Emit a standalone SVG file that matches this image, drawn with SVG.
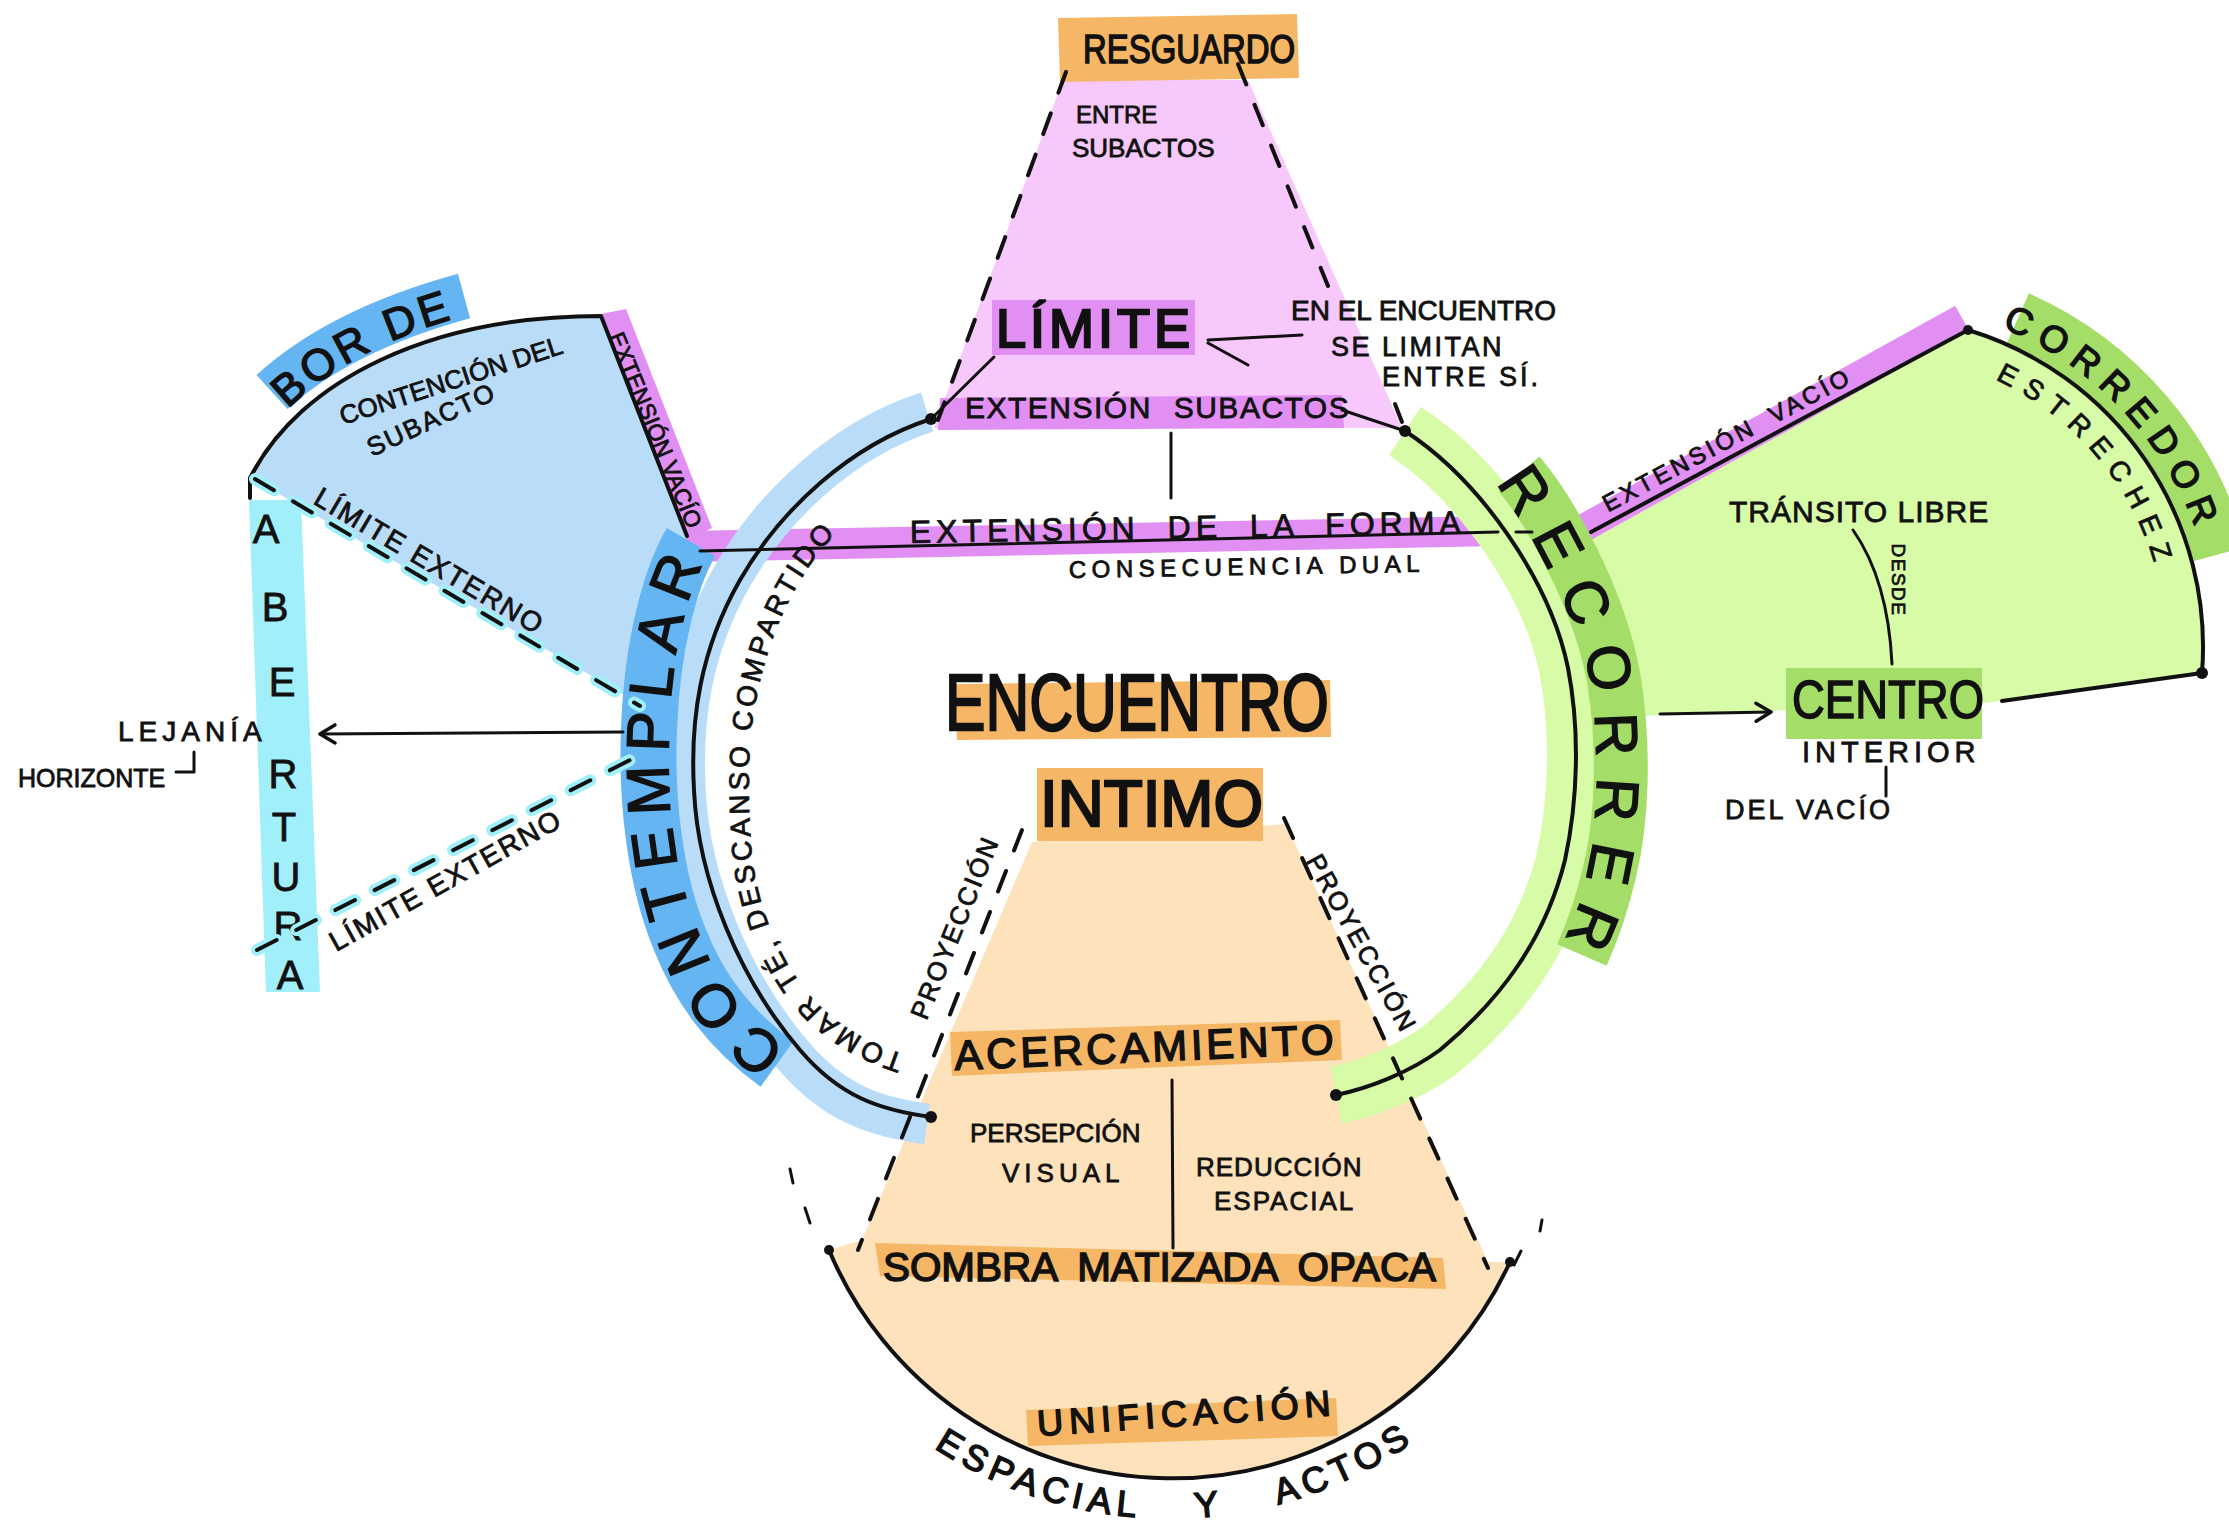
<svg xmlns="http://www.w3.org/2000/svg" width="2229" height="1527" viewBox="0 0 2229 1527">
<defs>
<style>
text { font-family: "Liberation Sans", Arial, sans-serif; fill: #111; stroke: #111; stroke-width: 0.8; }
.w2 { stroke-width: 1.5; }
.w3 { stroke-width: 2.4; }
.ln { fill: none; stroke: #111; stroke-width: 4; stroke-linecap: round; stroke-linejoin: round; }
.thin { fill: none; stroke: #111; stroke-width: 3; stroke-linecap: round; stroke-linejoin: round; }
.dash { fill: none; stroke: #111; stroke-width: 4; stroke-dasharray: 22 22; stroke-linecap: round; }
.halo { fill: none; stroke: #a1effa; stroke-width: 12; stroke-dasharray: 22 22; stroke-linecap: round; }
.orange { fill: #f5b765; }
.orangeL { fill: #fde2bc; }
.pinkL { fill: #f6c8fb; }
.mag { fill: #e18ff3; }
.blueL { fill: #b9ddf9; }
.blue { fill: #65b5f3; }
.cyan { fill: #a1effa; }
.greenL { fill: #d8fba8; }
.green { fill: #a4de68; }
.dot { fill: #111; }
</style>
<marker id="arr" viewBox="0 0 24 24" refX="21" refY="12" markerWidth="24" markerHeight="24" markerUnits="userSpaceOnUse" orient="auto">
<path d="M6,3 L21,12 L6,21" fill="none" stroke="#111" stroke-width="3.5" stroke-linecap="round" stroke-linejoin="round"/>
</marker>
<path id="pathLeft" d="M931,419 C850,445 780,510 740,580 C700,650 690,720 694,790 C698,880 740,980 800,1050 C840,1097 880,1110 931,1117"/>
<path id="pathRight" d="M1405,431 C1480,480 1550,580 1568,668 C1580,730 1578,800 1565,860 C1545,940 1500,1000 1440,1050 C1410,1072 1370,1088 1336,1095"/>
<path id="tpContemplar" d="M789,1048 C745,1020 716,980 698,932 C673,872 666,800 669,730 C672,640 690,590 708,552"/>
<path id="tpTomar" d="M905,1055 C860,1040 830,1020 805,990 C775,950 755,900 751,844 C747,790 748,740 756,700 C768,640 790,585 830,540"/>
<path id="tpRecorrer" d="M1500,490 C1530,530 1575,610 1590,680 C1600,750 1598,820 1588,870 C1580,905 1570,930 1560,950"/>
<path id="tpCorredor" d="M1990,323 A345 345 0 0 1 2209,575"/>
<path id="tpEstrechez" d="M1982,374 A294 294 0 0 1 2160,586"/>
<path id="tpBorde" d="M285,412 Q350,345 478,312"/>
<path id="tpEspacial" d="M924,1441 A428 428 0 0 0 1445,1418"/>
</defs>

<rect x="0" y="0" width="2229" height="1527" fill="#ffffff"/>

<!-- background fills -->
<g id="resguardo-zone">
<polygon class="pinkL" points="1063,80 1248,80 1402,428 934,428"/>
</g>
<g id="borde-zone">
<path class="blueL" d="M250,478 C300,380 430,316 601,316 L690,540 L705,560 L650,710 L255,480 Z"/>
</g>
<g id="corredor-zone">
<path class="greenL" d="M1580,538 L1968,330 A331 331 0 0 1 2202,673 L1985,703 L1635,716 Z"/>
</g>
<g id="intimo-zone">
<path class="orangeL" d="M1032,842 L1286,824 L1488,1262 L1510,1262 A372 372 0 0 1 829,1250 L862,1240 Z"/>
</g>

<!-- bands -->
<g id="abertura">
<polygon class="cyan" points="249,500 301,500 320,992 266,992"/>
<g font-size="40" text-anchor="middle" class="w2">
<text x="266" y="543">A</text>
<text x="275" y="621">B</text>
<text x="282" y="696">E</text>
<text x="283" y="788">R</text>
<text x="284" y="841">T</text>
<text x="286" y="891">U</text>
<text x="288" y="940">R</text>
<text x="290" y="989">A</text>
</g>
</g>

<g id="borde">
<path d="M272,392 Q340,330 464,296" fill="none" stroke="#65b5f3" stroke-width="46"/>
<text font-size="44" letter-spacing="4" class="w2"><textPath href="#tpBorde" startOffset="4">BOR DE</textPath></text>
</g>

<g id="corredor">
<path d="M2018,318 A360 360 0 0 1 2220,554" fill="none" stroke="#a4de68" stroke-width="54"/>
<text font-size="37" letter-spacing="10" text-anchor="middle" class="w2"><textPath href="#tpCorredor" startOffset="46%">CORREDOR</textPath></text>
</g>

<g id="extension-vacio-left">
<polygon class="mag" points="601,314 626,309 712,528 688,540"/>
<text x="648" y="433" font-size="23" text-anchor="middle" transform="rotate(67.7 648 433)">EXTENSIÓN VACÍO</text>
</g>

<g id="extension-forma">
<polygon class="mag" points="686,531 1497,516 1497,546 686,562"/>
<text x="910" y="543" font-size="32" letter-spacing="5" word-spacing="14" transform="rotate(-1 910 543)">EXTENSIÓN DE LA FORMA</text>
<text x="1069" y="578" font-size="24" letter-spacing="5.5" transform="rotate(-1 1069 578)">CONSECUENCIA DUAL</text>
</g>

<g id="extension-vacio-right">
<path d="M1562,540 L1962,318" fill="none" stroke="#e18ff3" stroke-width="28"/>
<text x="1731" y="447" font-size="24" text-anchor="middle" letter-spacing="3.5" word-spacing="8" transform="rotate(-28 1731 447)">EXTENSIÓN VACÍO</text>
</g>

<g id="resguardo">
<polygon class="orange" points="1058,18 1297,14 1299,78 1060,82"/>
<text x="1083" y="63" font-size="40" textLength="212" lengthAdjust="spacingAndGlyphs" class="w2">RESGUARDO</text>
<text x="1076" y="123" font-size="24">ENTRE</text>
<text x="1072" y="157" font-size="26">SUBACTOS</text>
</g>

<g id="limite">
<rect class="mag" x="992" y="300" width="203" height="55"/>
<text x="996" y="347" font-size="54" letter-spacing="4" class="w3">LÍMITE</text>
</g>

<g id="limite-note">
<text x="1291" y="320" font-size="27" textLength="265" lengthAdjust="spacingAndGlyphs">EN EL ENCUENTRO</text>
<text x="1331" y="356" font-size="27" letter-spacing="2.5">SE LIMITAN</text>
<text x="1382" y="386" font-size="27" letter-spacing="3">ENTRE SÍ.</text>
</g>

<g id="extension-subactos">
<polygon class="mag" points="940,398 1342,395 1344,428 938,430"/>
<text x="965" y="418" font-size="30" letter-spacing="1.5" word-spacing="12">EXTENSIÓN SUBACTOS</text>
</g>

<!-- rings -->
<g id="ring-left">
<use href="#pathLeft" fill="none" stroke="#b9ddf9" stroke-width="40" transform="matrix(1.02 0 0 1.02 -22.5 -15.36)"/>
</g>
<g id="ring-right">
<use href="#pathRight" fill="none" stroke="#d8fba8" stroke-width="58"/>
</g>

<g id="contemplar">
<path d="M691,542 C672,575 652,640 649,730 C646,800 655,880 680,940 C700,990 730,1030 777,1064" fill="none" stroke="#65b5f3" stroke-width="56"/>
<text font-size="60" letter-spacing="12" text-anchor="middle" class="w2"><textPath href="#tpContemplar" startOffset="50%">CONTEMPLAR</textPath></text>
</g>

<g id="recorrer">
<path d="M1519,474 C1550,510 1600,600 1614,680 C1625,750 1622,820 1610,870 C1602,905 1593,930 1582,955" fill="none" stroke="#a4de68" stroke-width="54"/>
<text font-size="60" letter-spacing="20" text-anchor="middle" class="w2"><textPath href="#tpRecorrer" startOffset="50%">RECORRER</textPath></text>
</g>

<g id="tomar-te">
<text font-size="28" letter-spacing="3.5"><textPath href="#tpTomar" startOffset="0">TOMAR TÉ, DESCANSO COMPARTIDO</textPath></text>
</g>

<!-- central nodes -->
<g id="encuentro">
<polygon class="orange" points="955,684 1330,680 1331,737 957,740"/>
<text x="945" y="730" font-size="80" textLength="384" lengthAdjust="spacingAndGlyphs" class="w3">ENCUENTRO</text>
</g>

<g id="intimo">
<rect class="orange" x="1037" y="768" width="226" height="73"/>
<text x="1040" y="826" font-size="64" textLength="223" lengthAdjust="spacingAndGlyphs" class="w3">INTIMO</text>
</g>

<g id="proyeccion-left">
<text x="963" y="931" font-size="26" text-anchor="middle" letter-spacing="2" transform="rotate(-68 963 931)">PROYECCIÓN</text>
</g>
<g id="proyeccion-right">
<text x="1354" y="948" font-size="26" text-anchor="middle" letter-spacing="2.5" transform="rotate(61 1354 948)">PROYECCIÓN</text>
</g>

<g id="acercamiento">
<polygon class="orange" points="950,1032 1340,1020 1342,1060 952,1076"/>
<text x="955" y="1070" font-size="42" letter-spacing="3.8" transform="rotate(-2.5 955 1070)" class="w2">ACERCAMIENTO</text>
</g>

<g id="percepcion">
<text x="970" y="1142" font-size="26">PERSEPCIÓN</text>
<text x="1002" y="1182" font-size="26" letter-spacing="5">VISUAL</text>
</g>
<g id="reduccion">
<text x="1196" y="1176" font-size="26" letter-spacing="1">REDUCCIÓN</text>
<text x="1214" y="1210" font-size="26" letter-spacing="2">ESPACIAL</text>
</g>

<g id="sombra">
<polygon class="orange" points="875,1243 1443,1258 1446,1289 880,1276"/>
<text x="883" y="1281" font-size="40" word-spacing="10" textLength="553" lengthAdjust="spacingAndGlyphs" class="w2">SOMBRA MATIZADA OPACA</text>
</g>

<g id="unificacion">
<polygon class="orange" points="1026,1410 1336,1398 1338,1436 1028,1446"/>
<text x="1038" y="1436" font-size="36" letter-spacing="6" transform="rotate(-4 1038 1436)" class="w2">UNIFICACIÓN</text>
</g>

<g id="espacial-actos">
<text font-size="36" letter-spacing="6" word-spacing="40" class="w2"><textPath href="#tpEspacial" startOffset="12">ESPACIAL Y ACTOS</textPath></text>
</g>

<!-- left side labels -->
<g id="contencion">
<text x="343" y="425" font-size="26" transform="rotate(-18 343 425)">CONTENCIÓN DEL</text>
<text x="372" y="457" font-size="26" letter-spacing="2" transform="rotate(-25 372 457)">SUBACTO</text>
</g>
<g id="limite-externo-upper">
<text x="312" y="503" font-size="28" letter-spacing="2" transform="rotate(30.5 312 503)">LÍMITE EXTERNO</text>
</g>
<g id="limite-externo-lower">
<text x="336" y="952" font-size="28" letter-spacing="2" transform="rotate(-29 336 952)">LÍMITE EXTERNO</text>
</g>
<g id="lejania">
<text x="118" y="741" font-size="28" letter-spacing="5">LEJANÍA</text>
<text x="18" y="787" font-size="25">HORIZONTE</text>
</g>

<!-- right side labels -->
<g id="transito">
<text x="1729" y="522" font-size="30" letter-spacing="1">TRÁNSITO LIBRE</text>
<text x="1892" y="580" font-size="19" text-anchor="middle" letter-spacing="1.5" transform="rotate(90 1892 580)">DESDE</text>
</g>
<g id="estrechez">
<text font-size="28" letter-spacing="10" text-anchor="middle"><textPath href="#tpEstrechez" startOffset="50%">ESTRECHEZ</textPath></text>
</g>
<g id="centro">
<rect class="green" x="1786" y="668" width="196" height="71"/>
<text x="1792" y="718" font-size="54" textLength="192" lengthAdjust="spacingAndGlyphs" class="w2">CENTRO</text>
<text x="1802" y="762" font-size="29" letter-spacing="5">INTERIOR</text>
<text x="1725" y="819" font-size="27" letter-spacing="3">DEL VACÍO</text>
</g>

<!-- connectors and outlines -->
<g id="connectors">
<use href="#pathLeft" class="ln"/>
<use href="#pathRight" class="ln"/>
<path class="ln" d="M250,498 L250,478 C300,380 430,316 601,316 L687,536"/>
<path class="ln" d="M1591,532 L1968,330 A331 331 0 0 1 2202,673 L2002,701"/>
<path class="ln" d="M829,1250 A372 372 0 0 0 1510,1262"/>
<path class="thin" d="M700,551 L1498,532 M1516,532 L1532,532"/>
<path class="dash" d="M1066,72 L938,420"/>
<path class="dash" d="M1238,64 L1328,286"/>
<path class="ln" d="M1395,404 L1402,422"/>
<path class="dash" d="M1022,830 L858,1250"/>
<path class="dash" d="M1284,818 L1488,1268"/>
<path class="halo" d="M255,479 L640,706"/>
<path class="dash" d="M255,479 L640,706"/>
<path class="halo" d="M257,950 L636,757"/>
<path class="dash" d="M257,950 L636,757"/>
<path class="thin" d="M790,1169 L793,1183 M805,1208 L810,1223 M1542,1220 L1540,1231 M1521,1251 L1514,1265"/>
<path class="thin" d="M994,357 L931,419"/>
<path class="thin" d="M1342,410 L1405,431"/>
<path class="thin" d="M1208,340 L1302,335 M1208,343 L1248,365"/>
<path class="thin" d="M1171,433 L1171,498"/>
<path class="thin" d="M1172,1080 L1173,1248"/>
<path class="thin" d="M623,732 L320,734" marker-end="url(#arr)"/>
<path class="thin" d="M1660,714 L1771,712" marker-end="url(#arr)"/>
<path class="thin" d="M1853,530 Q1888,580 1892,664"/>
<path class="thin" d="M1886,767 L1886,796"/>
<path class="thin" d="M194,752 L194,772 L176,772"/>
<circle class="dot" cx="931" cy="419" r="6"/>
<circle class="dot" cx="1405" cy="431" r="6"/>
<circle class="dot" cx="931" cy="1117" r="6"/>
<circle class="dot" cx="1336" cy="1095" r="6"/>
<circle class="dot" cx="1968" cy="330" r="5"/>
<circle class="dot" cx="2202" cy="673" r="6"/>
<circle class="dot" cx="829" cy="1250" r="5"/>
<circle class="dot" cx="1510" cy="1262" r="5"/>
</g>
</svg>
